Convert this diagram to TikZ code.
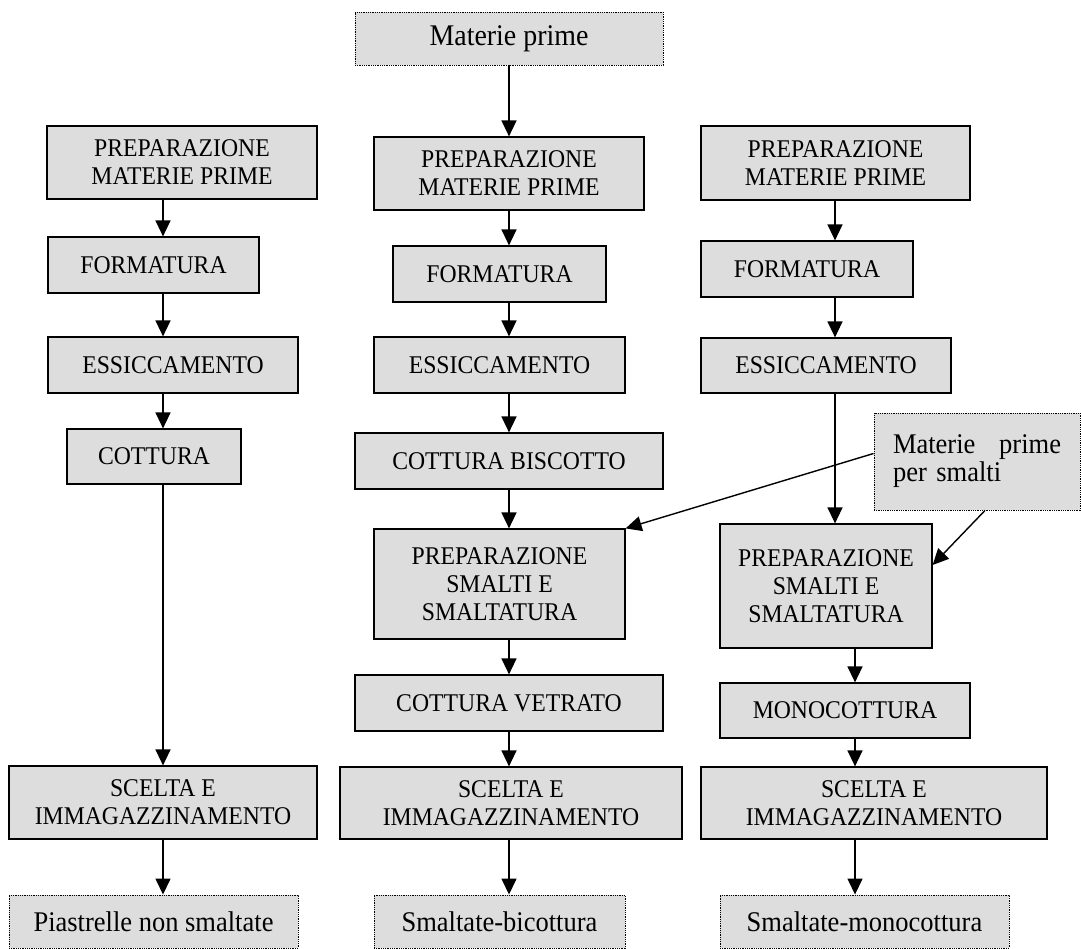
\documentclass[tikz,border=0pt]{standalone}
\usepackage{fontspec}
\setmainfont{Liberation Serif}[FakeStretch=0.93]
\usetikzlibrary{arrows.meta}
\definecolor{boxgray}{RGB}{221,221,221}
\begin{document}
\begin{tikzpicture}[x=1pt,y=-1pt]
        \tikzset{
            box/.style={rectangle, draw=black, line width=1.2pt, fill=boxgray,
            align=center, inner sep=0pt, font=\fontsize{25.5}{28}\selectfont},
            src/.style={rectangle, draw=black, line width=0.9pt,
            dash pattern=on 0.9pt off 0.9pt, fill=boxgray, align=center,
            inner sep=0pt, font=\fontsize{28.5}{28}\selectfont},
            c1/.style={-{Triangle[width=15pt,length=16pt]}, line width=1.4pt}
            }
            \useasboundingbox (0,0) rectangle (1081,949);

            \coordinate (xl) at (163,0);
            \coordinate (xm) at (509,0);
            \coordinate (xr) at (835,0);
            \coordinate (xs) at (855,0);

            \node[src, minimum width=308pt, minimum height=53pt, font=\fontsize{30}{30}\selectfont] (mp) at (509,38.5) {Materie prime};

            % left column
            \node[box, minimum width=270pt, minimum height=73pt] (l1) at (182,162.5) {PREPARAZIONE\\MATERIE PRIME};
            \node[box, minimum width=211pt, minimum height=56pt] (l2) at (153.5,265) {FORMATURA};
            \node[box, minimum width=250pt, minimum height=56pt] (l3) at (173,365) {ESSICCAMENTO};
            \node[box, minimum width=174pt, minimum height=55pt] (l4) at (154,456.5) {COTTURA};
            \node[box, minimum width=308pt, minimum height=73pt] (l5) at (163,802.5) {SCELTA E\\IMMAGAZZINAMENTO};
            \node[src, minimum width=289pt, minimum height=53pt] (l6) at (153.5,921.5) {Piastrelle non smaltate};

            % middle column
            \node[box, minimum width=270pt, minimum height=73pt] (m1) at (509,173.5) {PREPARAZIONE\\MATERIE PRIME};
            \node[box, minimum width=213pt, minimum height=56pt] (m2) at (499.5,274) {FORMATURA};
            \node[box, minimum width=251pt, minimum height=56pt] (m3) at (499.5,365) {ESSICCAMENTO};
            \node[box, minimum width=308pt, minimum height=56pt] (m4) at (509,461) {COTTURA BISCOTTO};
            \node[box, minimum width=251pt, minimum height=110pt] (m5) at (499.5,584) {PREPARAZIONE\\SMALTI E\\SMALTATURA};
            \node[box, minimum width=308pt, minimum height=56pt] (m6) at (509,703) {COTTURA VETRATO};
            \node[box, minimum width=342pt, minimum height=72pt] (m7) at (511,803) {SCELTA E\\IMMAGAZZINAMENTO};
            \node[src, minimum width=251pt, minimum height=53pt] (m8) at (499.5,921.5) {Smaltate-bicottura};

            % right column
            \node[box, minimum width=269pt, minimum height=74pt] (r1) at (835.5,163) {PREPARAZIONE\\MATERIE PRIME};
            \node[box, minimum width=212pt, minimum height=56pt] (r2) at (807,269) {FORMATURA};
            \node[box, minimum width=250pt, minimum height=55pt] (r3) at (826,365.5) {ESSICCAMENTO};
            \node[box, minimum width=212pt, minimum height=124pt] (r4) at (826,586) {PREPARAZIONE\\SMALTI E\\SMALTATURA};
            \node[box, minimum width=250pt, minimum height=55pt] (r5) at (845,710.5) {MONOCOTTURA};
            \node[box, minimum width=346pt, minimum height=72pt] (r6) at (874,803) {SCELTA E\\IMMAGAZZINAMENTO};
            \node[src, minimum width=289pt, minimum height=53pt] (r7) at (864.5,921.5) {Smaltate-monocottura};

            \node[src, minimum width=206pt, minimum height=97pt, text width=168pt, align=left] (ms) at (977,461.5) {Materie\hfill prime\\per smalti};

            \draw[c1] (mp.south -| xm) -- (m1.north -| xm);

            \draw[c1] (l1.south -| xl) -- (l2.north -| xl);
            \draw[c1] (l2.south -| xl) -- (l3.north -| xl);
            \draw[c1] (l3.south -| xl) -- (l4.north -| xl);
            \draw[c1] (l4.south -| xl) -- (l5.north -| xl);
            \draw[c1] (l5.south -| xl) -- (l6.north -| xl);

            \draw[c1] (m1.south -| xm) -- (m2.north -| xm);
            \draw[c1] (m2.south -| xm) -- (m3.north -| xm);
            \draw[c1] (m3.south -| xm) -- (m4.north -| xm);
            \draw[c1] (m4.south -| xm) -- (m5.north -| xm);
            \draw[c1] (m5.south -| xm) -- (m6.north -| xm);
            \draw[c1] (m6.south -| xm) -- (m7.north -| xm);
            \draw[c1] (m7.south -| xm) -- (m8.north -| xm);

            \draw[c1] (r1.south -| xr) -- (r2.north -| xr);
            \draw[c1] (r2.south -| xr) -- (r3.north -| xr);
            \draw[c1] (r3.south -| xr) -- (r4.north -| xr);
            \draw[c1] (r4.south -| xs) -- (r5.north -| xs);
            \draw[c1] (r5.south -| xs) -- (r6.north -| xs);
            \draw[c1] (r6.south -| xs) -- (r7.north -| xs);

            \draw[c1] ([yshift=8pt]ms.west) -- (m5.north east);
            \draw[c1] ([xshift=8pt]ms.south) -- ([yshift=21pt]r4.east);
        \end{tikzpicture}
\end{document}
